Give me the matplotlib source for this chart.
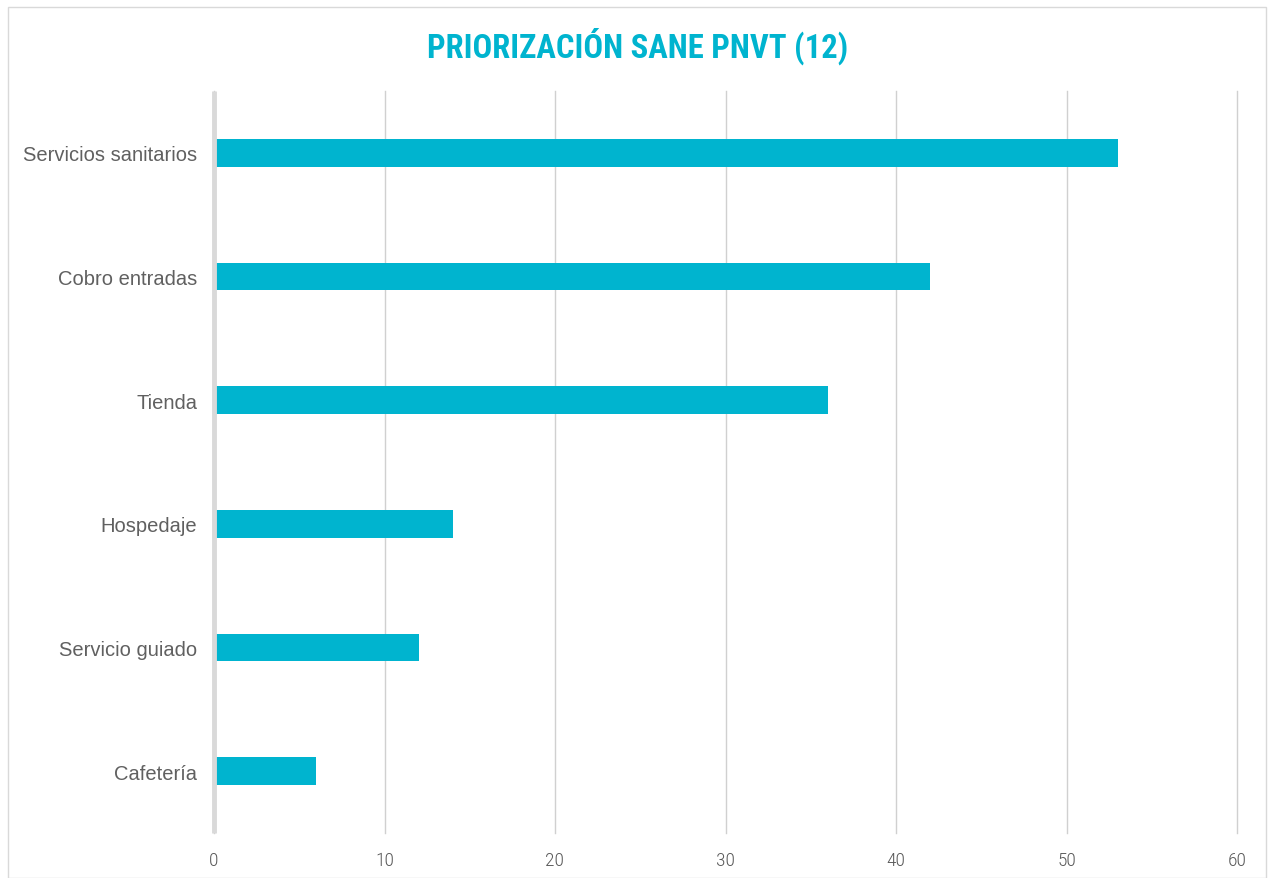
import matplotlib
matplotlib.use("Agg")
import matplotlib.pyplot as plt
from matplotlib.patches import Rectangle

categories = ["Servicios sanitarios", "Cobro entradas", "Tienda", "Hospedaje", "Servicio guiado", "Cafetería"]
values = [53, 42, 36, 14, 12, 6]
xticks = [0, 10, 20, 30, 40, 50, 60]
title = "PRIORIZACIÓN SANE PNVT (12)"

W, H = 1268, 879
fig = plt.figure(figsize=(W / 100, H / 100), dpi=100)
fig.patch.set_facecolor("white")

ax = fig.add_axes([214 / W, (H - 834) / H, (1237 - 214) / W, (834 - 92) / H])
bar_color = "#00B4CF"
ax.barh(range(len(categories)), values, height=0.226, color=bar_color, zorder=3)
ax.set_ylim(len(categories) - 0.5, -0.5)
ax.set_xlim(0, 60)
ax.set_xticks(xticks)
ax.set_xticklabels([str(t) for t in xticks], fontfamily=["Roboto Condensed", "DejaVu Sans"],
                   fontweight=300, fontsize=14, color="#595959")
ax.set_yticks(range(len(categories)))
ax.set_yticklabels(categories, fontfamily=["Liberation Sans", "DejaVu Sans"], fontsize=14.5, color="#606060")
ax.tick_params(axis="both", length=0)
ax.tick_params(axis="y", pad=12)
ax.tick_params(axis="x", pad=13)
ax.grid(axis="x", color="#d0d0d0", linewidth=1, zorder=0)
for gl in ax.get_xgridlines():
    gl.set_clip_on(False)
for s in ["top", "right", "bottom"]:
    ax.spines[s].set_visible(False)
ax.spines["left"].set_color("#d9d9d9")
ax.spines["left"].set_linewidth(3.5)
ax.spines["left"].set_capstyle("butt")
ax.spines["left"].set_zorder(4)

fig.text(638 / W, 1 - 46 / H, title, ha="center", va="center", color="#00B4CF",
         fontsize=23.5, fontweight="bold", fontfamily=["Roboto Condensed", "DejaVu Sans"])

fig.patches.append(Rectangle((8 / W, 0), (1266 - 8) / W, (H - 8) / H, transform=fig.transFigure,
                             fill=False, edgecolor="#d9d9d9", linewidth=1))

fig.savefig("out.png", dpi=100)
